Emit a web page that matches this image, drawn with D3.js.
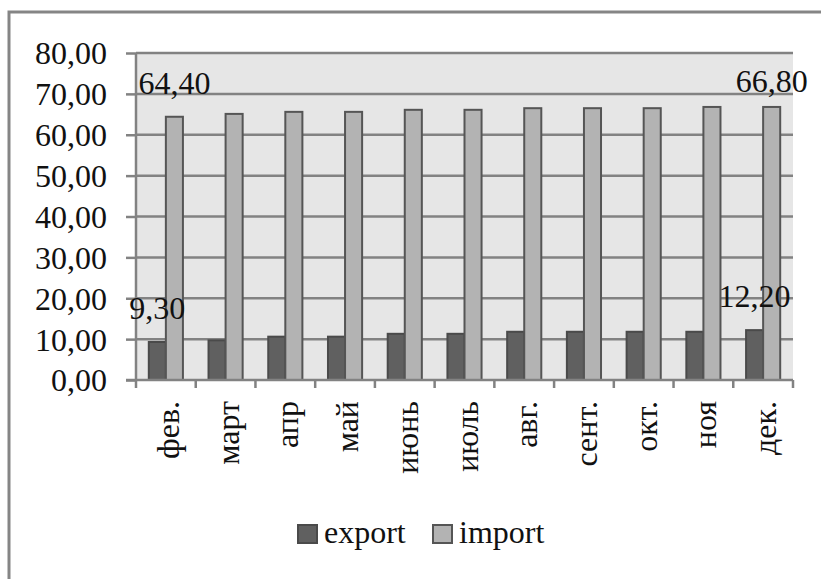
<!DOCTYPE html>
<html>
<head>
<meta charset="utf-8">
<script src="https://cdn.jsdelivr.net/npm/d3@7/dist/d3.min.js"></script>
<style>
  html, body { margin: 0; padding: 0; background: #fff; }
  svg { display: block; }
</style>
</head>
<body>
<svg id="chart" width="821" height="579"></svg>
<script>
// Monthly export / import volumes
const months = ["фев.", "март", "апр", "май", "июнь", "июль", "авг.", "сент.", "окт.", "ноя", "дек."];
const exportValues = [9.3, 9.7, 10.6, 10.6, 11.3, 11.3, 11.8, 11.8, 11.8, 11.8, 12.2];
const importValues = [64.4, 65.1, 65.6, 65.6, 66.1, 66.1, 66.5, 66.5, 66.5, 66.8, 66.8];
const seriesNames = ["export", "import"];
const yTicks = [0, 10, 20, 30, 40, 50, 60, 70, 80];

const fmt = v => d3.format(".2f")(v).replace(".", ",");

const FONT = "'Liberation Serif'";
const fontSize = 32;
const svg = d3.select("#chart");
const plot = { left: 136, right: 793, top: 53, bottom: 380 };

const colors = {
  export: { fill: "#606060", stroke: "#4a4a4a" },
  import: { fill: "#b3b3b3", stroke: "#555555" }
};

// Common text style
const styleText = sel => sel
  .style("font-family", FONT)
  .style("font-size", fontSize + "px")
  .attr("fill", "#111");

// Outer frame (top and left edges visible)
svg.append("path")
  .attr("d", `M9,579 V12 H821`)
  .attr("fill", "none")
  .attr("stroke", "#858585")
  .attr("stroke-width", 3);

const x = d3.scaleBand().domain(months).range([plot.left, plot.right]).paddingInner(0).paddingOuter(0);
const y = d3.scaleLinear().domain([0, 80]).range([plot.bottom, plot.top]);

// Plot background
svg.append("rect")
  .attr("x", plot.left).attr("y", plot.top)
  .attr("width", plot.right - plot.left).attr("height", plot.bottom - plot.top)
  .attr("fill", "#e6e6e6");

// Horizontal gridlines
svg.append("g").selectAll("line").data(yTicks.filter(t => t > 0)).join("line")
  .attr("x1", plot.left).attr("x2", plot.right)
  .attr("y1", d => y(d)).attr("y2", d => y(d))
  .attr("stroke", "#828282").attr("stroke-width", 2.5);

// Bars: gap width 150% (bar = band / 3.5)
const barW = x.bandwidth() / 3.5;
const rows = months.map((m, i) => ({ m, export: exportValues[i], import: importValues[i] }));

seriesNames.forEach((s, si) => {
  svg.append("g").selectAll("rect").data(rows).join("rect")
    .attr("x", d => x(d.m) + (x.bandwidth() - 2 * barW) / 2 + si * barW)
    .attr("y", d => y(d[s]))
    .attr("width", barW)
    .attr("height", d => y(0) - y(d[s]))
    .attr("fill", colors[s].fill)
    .attr("stroke", colors[s].stroke)
    .attr("stroke-width", 2);
});

// Y axis
const yAxis = d3.axisLeft(y).tickValues(yTicks).tickSize(10).tickFormat(fmt);
const gy = svg.append("g").attr("transform", `translate(${plot.left},0)`).call(yAxis);
gy.select(".domain").remove();
gy.selectAll(".tick line").attr("stroke", "#828282").attr("stroke-width", 2.5);
gy.selectAll(".tick text")
  .attr("x", -29).attr("dy", "0.34em")
  .call(styleText);
svg.append("line")
  .attr("x1", plot.left).attr("x2", plot.left)
  .attr("y1", plot.top).attr("y2", plot.bottom)
  .attr("stroke", "#828282").attr("stroke-width", 2.5);

// X axis with ticks at category boundaries
svg.append("line")
  .attr("x1", plot.left - 10).attr("x2", plot.right)
  .attr("y1", plot.bottom).attr("y2", plot.bottom)
  .attr("stroke", "#828282").attr("stroke-width", 2.5);
const bounds = months.map(m => x(m)).concat([plot.right]);
svg.append("g").selectAll("line").data(bounds).join("line")
  .attr("x1", d => d).attr("x2", d => d)
  .attr("y1", plot.bottom).attr("y2", plot.bottom + 8)
  .attr("stroke", "#828282").attr("stroke-width", 2.5);

// Rotated category labels
svg.append("g").selectAll("text").data(months).join("text")
  .attr("transform", d => `translate(${x(d) + x.bandwidth() / 2 + 13},${plot.bottom + 21}) rotate(-90)`)
  .attr("text-anchor", "end")
  .call(styleText)
  .text(d => d);

// Value labels on the first and last bars of each series
const labelled = [];
seriesNames.forEach((s, si) => {
  [0, months.length - 1].forEach(i => {
    labelled.push({ s, si, m: months[i], v: s === "export" ? exportValues[i] : importValues[i] });
  });
});
svg.append("g").selectAll("text").data(labelled).join("text")
  .attr("x", d => x(d.m) + (x.bandwidth() - 2 * barW) / 2 + d.si * barW + barW / 2)
  .attr("y", d => Math.max(y(d.v) - 23, plot.top + 39))
  .attr("text-anchor", "middle")
  .call(styleText)
  .text(d => fmt(d.v));

// Legend
const legend = svg.append("g");
const legendItems = [
  { name: "export", sx: 297 },
  { name: "import", sx: 432 }
];
legendItems.forEach(item => {
  legend.append("rect")
    .attr("x", item.sx + 1).attr("y", 525)
    .attr("width", 19).attr("height", 18)
    .attr("fill", colors[item.name].fill)
    .attr("stroke", colors[item.name].stroke).attr("stroke-width", 2);
  legend.append("text")
    .attr("x", item.sx + 27).attr("y", 543)
    .call(styleText)
    .text(item.name);
});
</script>
</body>
</html>
